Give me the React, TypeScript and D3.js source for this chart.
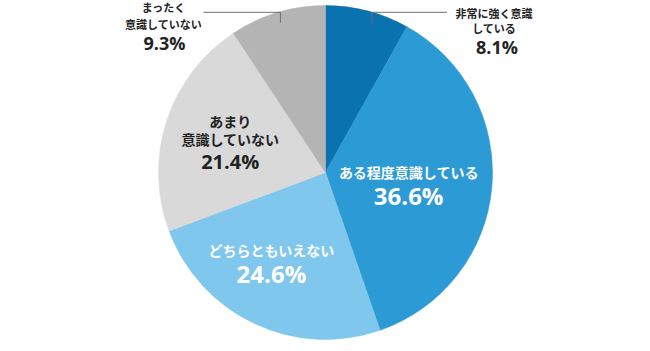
import React from "react";
import * as d3 from "d3";

const categories = ["非常に強く意識している", "ある程度意識している", "どちらともいえない", "あまり意識していない", "まったく意識していない"];
const values = [8.1, 36.6, 24.6, 21.4, 9.3];
const labelLines = [["非常に強く意識", "している"], ["ある程度意識している"], ["どちらともいえない"], ["あまり", "意識していない"], ["まったく", "意識していない"]];
const colors = ["#0b72b0", "#2c9bd5", "#7fc7ec", "#d9d9d9", "#b4b4b4"];

const W = 650, H = 351;
const cx = 325.5, cy = 172.5, R = 167;
const FONT = "'Noto Sans CJK JP', 'Noto Sans', sans-serif";
const PCT_FONT = "'Open Sans', 'Noto Sans', sans-serif";

// layout (not data)
const inside = [false, true, true, true, false];
const insideR = [0, 0.5, 0.62, 0.6, 0];
const insideDx = [0, 0, -10, 0, 0];
const insideDy = [0, 5, -4, 0, 0];
const insideColor = ["#fff", "#fff", "#fff", "#222", "#222"];
const insidePct = [0, 24, 24, 20, 0];
const leaderAngleShift = [2.8, 0, 0, 0, 0];

export default function App() {
  const pie = d3.pie<number>().sort(null).value((d) => d);
  const arcs = pie(values);
  const arc = d3.arc<d3.PieArcDatum<number>>().innerRadius(0).outerRadius(R);

  return (
    <svg width={W} height={H} style={{ position: "absolute", left: 0, top: 0, fontFamily: FONT }}>
      <g transform={`translate(${cx},${cy})`}>
        {arcs.map((a, i) => (
          <path key={i} d={arc(a) || ""} fill={colors[i]} stroke={colors[i]} strokeWidth={0.5} />
        ))}
        {arcs.map((a, i) => {
          const mid = (a.startAngle + a.endAngle) / 2;
          if (inside[i]) {
            const rr = R * insideR[i];
            const x = Math.sin(mid) * rr + insideDx[i];
            const y = -Math.cos(mid) * rr + insideDy[i];
            const lines = labelLines[i];
            const lh = 18.5;
            const gap = i === 3 ? 21.5 : 23.5;
            const total = (lines.length - 1) * lh + gap;
            const y0 = y - total / 2;
            return (
              <g key={i} fill={insideColor[i]} textAnchor="middle" fontWeight={700}>
                {lines.map((l, j) => (
                  <text key={j} x={x} y={y0 + j * lh} dy="0.38em" fontSize={14}>{l}</text>
                ))}
                <text x={x} y={y0 + (lines.length - 1) * lh + gap} dy="0.36em" fontSize={insidePct[i]} fontFamily={PCT_FONT}>
                  {values[i].toFixed(1)}%
                </text>
              </g>
            );
          }
          const ang = mid + (leaderAngleShift[i] * Math.PI) / 180;
          const isRight = Math.sin(ang) > 0;
          const sy = isRight ? 24 - cy : 22.7 - cy;
          const sx = -sy * Math.tan(ang);
          const ly = 12.3 - cy;
          const dir = isRight ? 1 : -1;
          const ex = sx + dir * (isRight ? 75 : 77);
          const tx = sx + dir * (isRight ? 122 : 117);
          const lines = labelLines[i];
          const t0 = isRight ? 13.5 - cy : 7.5 - cy;
          const lh = isRight ? 15 : 17.5;
          const pctY = isRight ? 47.5 - cy : 43.3 - cy;
          return (
            <g key={i}>
              <polyline points={`${sx},${sy} ${sx},${ly} ${ex},${ly}`} fill="none" stroke="#707070" strokeWidth={1} />
              <g fill="#222" textAnchor="middle" fontWeight={700}>
                {lines.map((l, j) => (
                  <text key={j} x={tx} y={t0 + j * lh} dy="0.38em" fontSize={11}>{l}</text>
                ))}
                <text x={tx + (isRight ? 3 : 1)} y={pctY} dy="0.36em" fontSize={18} fontFamily={PCT_FONT}>
                  {values[i].toFixed(1)}%
                </text>
              </g>
            </g>
          );
        })}
      </g>
    </svg>
  );
}
